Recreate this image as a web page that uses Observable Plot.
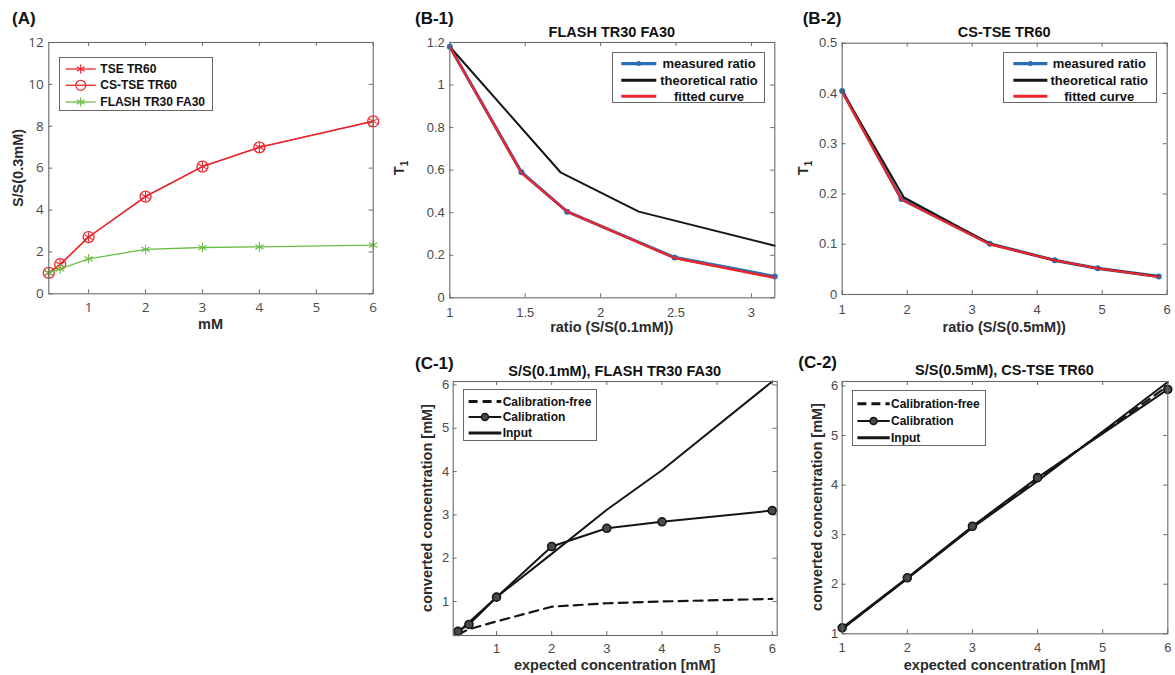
<!DOCTYPE html>
<html><head><meta charset="utf-8">
<script src="https://cdn.jsdelivr.net/npm/d3@7"></script>
<script src="https://cdn.jsdelivr.net/npm/@observablehq/plot@0.6"></script>
<style>
body{margin:0;background:#fff;}
#fig{position:relative;width:1175px;height:675px;overflow:hidden;font-family:"Liberation Sans",Arial,sans-serif;background:#fff;}
#fig svg{position:absolute;}
.abs{position:absolute;white-space:nowrap;line-height:1;}
.letter{font-weight:bold;font-size:17px;color:#111;transform:translate(0,-50%);}
.title{font-weight:bold;font-size:14.5px;color:#111;transform:translate(-50%,-50%);}
.xlab{font-weight:bold;font-size:14.5px;color:#2b2b2b;transform:translate(-50%,-50%);}
.ylab{font-weight:bold;font-size:14.5px;color:#2b2b2b;transform:translate(-50%,-50%) rotate(-90deg);}
.legend{position:absolute;border:1px solid #666;background:#fff;box-sizing:border-box;}
.legend .lt{position:absolute;white-space:nowrap;font-weight:bold;line-height:1;transform:translate(0,-50%);color:#111;}
.legend svg{position:absolute;left:0;top:0;overflow:visible;}
</style></head><body><div id="fig"></div>
<script>
// ---------------- DATA ----------------
// (A) signal ratio vs concentration
const concA = [0.3, 0.5, 1, 2, 3, 4, 6];
const tseTR60 = [1.0, 1.40, 2.71, 4.65, 6.08, 7.00, 8.24];
const csTseTR60 = [1.0, 1.41, 2.71, 4.64, 6.07, 6.99, 8.23];
const flashTR30FA30 = [1.0, 1.19, 1.67, 2.12, 2.21, 2.24, 2.32];
const namesA = ["TSE TR60", "CS-TSE TR60", "FLASH TR30 FA30"];
const xTicksA = [1, 2, 3, 4, 5, 6];
const yTicksA = [0, 2, 4, 6, 8, 10, 12];

// (B-1) FLASH TR30 FA30
const b1MeasRatio = [1.0, 1.475, 1.778, 2.49, 3.155];
const b1MeasT1 = [1.18, 0.59, 0.405, 0.19, 0.10];
const b1TheoRatio = [1.0, 1.734, 2.253, 3.155];
const b1TheoT1 = [1.18, 0.59, 0.405, 0.245];
const b1FitT1 = [1.18, 0.587, 0.405, 0.187, 0.094];
const xTicksB1 = [1, 1.5, 2, 2.5, 3];
const yTicksB1 = [0, 0.2, 0.4, 0.6, 0.8, 1, 1.2];

// (B-2) CS-TSE TR60
const b2MeasRatio = [1.0, 1.91, 3.27, 4.27, 4.93, 5.87];
const b2MeasT1 = [0.405, 0.19, 0.101, 0.068, 0.052, 0.036];
const b2TheoRatio = [1.0, 1.95, 3.27, 4.27, 4.93, 5.87];
const b2TheoT1 = [0.405, 0.193, 0.101, 0.068, 0.052, 0.036];
const b2FitT1 = [0.403, 0.189, 0.100, 0.068, 0.052, 0.035];
const xTicksB2 = [1, 2, 3, 4, 5, 6];
const yTicksB2 = [0, 0.1, 0.2, 0.3, 0.4, 0.5];
const namesB = ["measured ratio", "theoretical ratio", "fitted curve"];

// (C-1) S/S(0.1mM), FLASH TR30 FA30
const concC1 = [0.3, 0.5, 1, 2, 3, 4, 6];
const c1CalFree = [0.24, 0.36, 0.54, 0.88, 0.96, 1.0, 1.06];
const c1Cal = [0.31, 0.47, 1.10, 2.27, 2.69, 2.84, 3.10];
const c1Input = [0.29, 0.52, 1.10, 2.10, 3.12, 4.03, 6.08];

// (C-2) S/S(0.5mM), CS-TSE TR60
const concC2 = [1, 2, 3, 4, 6];
const c2CalFree = [1.10, 2.12, 3.16, 4.13, 6.00];
const c2Cal = [1.12, 2.13, 3.17, 4.15, 5.93];
const c2Input = [1.10, 2.11, 3.14, 4.08, 6.08];
const xTicksC = [1, 2, 3, 4, 5, 6];
const yTicksC = [1, 2, 3, 4, 5, 6];
const namesC = ["Calibration-free", "Calibration", "Input"];

// ---------------- HELPERS ----------------
const fig = document.getElementById("fig");
const zip = (xs, ys) => xs.map((x, i) => ({x, y: ys[i]}));
const fmt = d => String(d);
const RED = "#e8262c", GREEN = "#6cbd45", BLUE = "#2a6fb6", BLACK = "#151515", AXIS = "#6a6a6a";

function panel(cfg) {
  const [x0, y0, x1, y1] = cfg.frame;
  const innerW = x1 - x0, innerH = y1 - y0;
  const tk = 4;
  const svg = Plot.plot({
    width: cfg.width, height: cfg.height,
    marginLeft: x0 - cfg.left, marginRight: cfg.left + cfg.width - x1,
    marginTop: y0 - cfg.top, marginBottom: cfg.top + cfg.height - y1,
    x: {domain: cfg.xDomain},
    y: {domain: cfg.yDomain},
    style: {fontFamily: cfg.font, fontSize: cfg.fontSize + "px", color: "#4a4a4a", background: "transparent", overflow: "visible"},
    marks: [
      Plot.tickX(cfg.xTicks, {x: d => d, stroke: AXIS, insetTop: innerH - tk}),
      Plot.tickX(cfg.xTicks, {x: d => d, stroke: AXIS, insetBottom: innerH - tk}),
      Plot.tickY(cfg.yTicks, {y: d => d, stroke: AXIS, insetRight: innerW - tk}),
      Plot.tickY(cfg.yTicks, {y: d => d, stroke: AXIS, insetLeft: innerW - tk}),
      Plot.axisX({ticks: cfg.xTicks, tickSize: 0, tickPadding: cfg.xPad, tickFormat: fmt, label: null, fill: "#4a4a4a"}),
      Plot.axisY({ticks: cfg.yTicks, tickSize: 0, tickPadding: cfg.yPad, tickFormat: fmt, label: null, fill: "#4a4a4a"}),
      ...cfg.marks,
      Plot.frame({stroke: AXIS, strokeWidth: 1.1})
    ]
  });
  svg.style.left = cfg.left + "px";
  svg.style.top = cfg.top + "px";
  fig.appendChild(svg);
}

function text(cls, str, x, y, html) {
  const d = document.createElement("div");
  d.className = "abs " + cls;
  if (html) d.innerHTML = str; else d.textContent = str;
  d.style.left = x + "px";
  d.style.top = y + "px";
  fig.appendChild(d);
}

function asteriskPath(cx, cy, r) {
  let p = "";
  for (let k = 0; k < 3; k++) {
    const a = k * Math.PI / 3 + Math.PI / 2;
    p += `M${cx - r * Math.cos(a)},${cy - r * Math.sin(a)}L${cx + r * Math.cos(a)},${cy + r * Math.sin(a)}`;
  }
  return p;
}

function legend(box, entries, opt) {
  const d = document.createElement("div");
  d.className = "legend";
  d.style.left = box[0] + "px"; d.style.top = box[1] + "px";
  d.style.width = box[2] + "px"; d.style.height = box[3] + "px";
  let svg = `<svg width="${box[2]}" height="${box[3]}">`;
  entries.forEach(e => {
    const [sx0, sx1] = opt.sample, cy = e.y, cx = (sx0 + sx1) / 2;
    svg += `<line x1="${sx0}" x2="${sx1}" y1="${cy}" y2="${cy}" stroke="${e.color}" stroke-width="${e.width}" ${e.dash ? `stroke-dasharray="${e.dash}"` : ""}/>`;
    if (e.marker === "circle") svg += `<circle cx="${cx}" cy="${cy}" r="${e.r}" fill="${e.fill || "none"}" stroke="${e.mstroke || e.color}" stroke-width="${e.mw || 1.2}"/>`;
    if (e.marker === "asterisk") svg += `<path d="${asteriskPath(cx, cy, e.r)}" stroke="${e.color}" stroke-width="1.2"/>`;
    if (e.marker === "dot") svg += `<circle cx="${cx}" cy="${cy}" r="${e.r}" fill="${e.color}"/>`;
  });
  svg += `</svg>`;
  d.innerHTML = svg;
  entries.forEach(e => {
    const t = document.createElement("div");
    t.className = "lt";
    t.textContent = e.label;
    t.style.fontSize = opt.fontSize + "px";
    t.style.top = e.y + "px";
    if (opt.center) { t.style.left = opt.center + "px"; t.style.transform = "translate(-50%,-50%)"; }
    else t.style.left = opt.textX + "px";
    d.appendChild(t);
  });
  fig.appendChild(d);
}

// ---------------- (A) ----------------
panel({
  left: 0, top: 0, width: 390, height: 340, frame: [48.3, 42, 372.7, 293.3],
  xDomain: [0.3, 6], yDomain: [0, 12], xTicks: xTicksA, yTicks: yTicksA,
  font: "'Open Sans', 'Noto Sans', sans-serif", fontSize: 13.5, xPad: 9, yPad: 5,
  marks: [
    Plot.line(zip(concA, tseTR60), {x: "x", y: "y", stroke: RED, strokeWidth: 1.3}),
    Plot.dot(zip(concA, tseTR60), {x: "x", y: "y", symbol: "asterisk", r: 4.5, stroke: RED, strokeWidth: 1.1}),
    Plot.line(zip(concA, csTseTR60), {x: "x", y: "y", stroke: RED, strokeWidth: 1.3}),
    Plot.dot(zip(concA, csTseTR60), {x: "x", y: "y", symbol: "circle", r: 5.5, stroke: RED, strokeWidth: 1.3, fill: "none"}),
    Plot.line(zip(concA, flashTR30FA30), {x: "x", y: "y", stroke: GREEN, strokeWidth: 1.3}),
    Plot.dot(zip(concA, flashTR30FA30), {x: "x", y: "y", symbol: "asterisk", r: 4.5, stroke: GREEN, strokeWidth: 1.1})
  ]
});
text("letter", "(A)", 12, 18);
text("ylab", "S/S(0.3mM)", 18, 167.5);
text("xlab", "mM", 210.5, 324);
legend([59.3, 56.7, 154, 54], [
  {label: namesA[0], y: 11, color: RED, width: 1.3, marker: "asterisk", r: 4.5},
  {label: namesA[1], y: 27.3, color: RED, width: 1.3, marker: "circle", r: 5},
  {label: namesA[2], y: 44, color: GREEN, width: 1.3, marker: "asterisk", r: 4.5}
], {sample: [5.7, 35.7], textX: 40, fontSize: 12});

// ---------------- (B-1) ----------------
panel({
  left: 390, top: 0, width: 400, height: 340, frame: [449.3, 42, 774.3, 297.3],
  xDomain: [1, 3.155], yDomain: [0, 1.2], xTicks: xTicksB1, yTicks: yTicksB1,
  font: "'Liberation Sans', Arial, sans-serif", fontSize: 13, xPad: 10, yPad: 5,
  marks: [
    Plot.line(zip(b1MeasRatio, b1MeasT1), {x: "x", y: "y", stroke: BLUE, strokeWidth: 3.2}),
    Plot.dot(zip(b1MeasRatio, b1MeasT1), {x: "x", y: "y", r: 3, fill: BLUE}),
    Plot.line(zip(b1TheoRatio, b1TheoT1), {x: "x", y: "y", stroke: BLACK, strokeWidth: 2}),
    Plot.line(zip(b1MeasRatio, b1FitT1), {x: "x", y: "y", stroke: RED, strokeWidth: 2.4})
  ]
});
text("letter", "(B-1)", 415, 18);
text("title", "FLASH TR30 FA30", 611.8, 32);
text("ylab", "T<sub style='font-size:10px'>1</sub>", 400.5, 168, true);
text("xlab", "ratio (S/S(0.1mM))", 611.8, 326.7);
legend([611.7, 51.7, 153.3, 51.6], [
  {label: namesB[0], y: 10.6, color: BLUE, width: 3.2, marker: "dot", r: 2.5},
  {label: namesB[1], y: 27.3, color: BLACK, width: 3},
  {label: namesB[2], y: 43.3, color: RED, width: 3}
], {sample: [8.3, 43.3], center: 96.3, fontSize: 13});

// ---------------- (B-2) ----------------
panel({
  left: 790, top: 0, width: 385, height: 340, frame: [841.7, 42.7, 1166.7, 294],
  xDomain: [1, 6], yDomain: [0, 0.5], xTicks: xTicksB2, yTicks: yTicksB2,
  font: "'Liberation Sans', Arial, sans-serif", fontSize: 13, xPad: 10, yPad: 5,
  marks: [
    Plot.line(zip(b2MeasRatio, b2MeasT1), {x: "x", y: "y", stroke: BLUE, strokeWidth: 3.2}),
    Plot.dot(zip(b2MeasRatio, b2MeasT1), {x: "x", y: "y", r: 3, fill: BLUE}),
    Plot.line(zip(b2TheoRatio, b2TheoT1), {x: "x", y: "y", stroke: BLACK, strokeWidth: 2}),
    Plot.line(zip(b2MeasRatio, b2FitT1), {x: "x", y: "y", stroke: RED, strokeWidth: 2.4})
  ]
});
text("letter", "(B-2)", 802.7, 18);
text("title", "CS-TSE TR60", 1004.2, 32);
text("ylab", "T<sub style='font-size:10px'>1</sub>", 805, 168, true);
text("xlab", "ratio (S/S(0.5mM))", 1004.2, 326.7);
legend([1003.3, 51.7, 153.4, 51.6], [
  {label: namesB[0], y: 10.6, color: BLUE, width: 3.2, marker: "dot", r: 2.5},
  {label: namesB[1], y: 27.3, color: BLACK, width: 3},
  {label: namesB[2], y: 43.3, color: RED, width: 3}
], {sample: [9.4, 43.4], center: 95, fontSize: 13});

// ---------------- (C-1) ----------------
panel({
  left: 390, top: 340, width: 400, height: 335, frame: [452.7, 381, 776.7, 635],
  xDomain: [0.214, 6.09], yDomain: [0.215, 6.08], xTicks: xTicksC, yTicks: yTicksC,
  font: "'Liberation Sans', Arial, sans-serif", fontSize: 13, xPad: 8.5, yPad: 4,
  marks: [
    Plot.line(zip(concC1, c1CalFree), {x: "x", y: "y", stroke: BLACK, strokeWidth: 2.2, strokeDasharray: "9,6"}),
    Plot.line(zip(concC1, c1Input), {x: "x", y: "y", stroke: BLACK, strokeWidth: 2}),
    Plot.line(zip(concC1, c1Cal), {x: "x", y: "y", stroke: BLACK, strokeWidth: 2}),
    Plot.dot(zip(concC1, c1Cal), {x: "x", y: "y", r: 4, fill: "#4a4a4a", stroke: BLACK, strokeWidth: 1.6})
  ]
});
text("letter", "(C-1)", 415, 362.7);
text("title", "S/S(0.1mM), FLASH TR30 FA30", 614.7, 370.5);
text("ylab", "converted concentration [mM]", 426.7, 508);
text("xlab", "expected concentration [mM]", 614.7, 665);
legend([462.7, 389.3, 134, 51.4], [
  {label: namesC[0], y: 11.4, color: BLACK, width: 3, dash: "9,5"},
  {label: namesC[1], y: 27, color: BLACK, width: 2, marker: "circle", r: 3.5, fill: "#4a4a4a", mstroke: BLACK, mw: 1.6},
  {label: namesC[2], y: 43, color: BLACK, width: 3}
], {sample: [4.6, 37.3], textX: 39, fontSize: 12});

// ---------------- (C-2) ----------------
panel({
  left: 790, top: 340, width: 385, height: 335, frame: [841.7, 381, 1167.3, 633.3],
  xDomain: [1, 6], yDomain: [1, 6.09], xTicks: xTicksC, yTicks: yTicksC,
  font: "'Liberation Sans', Arial, sans-serif", fontSize: 13, xPad: 8.5, yPad: 4,
  marks: [
    Plot.line(zip(concC2, c2CalFree), {x: "x", y: "y", stroke: BLACK, strokeWidth: 2.2, strokeDasharray: "9,6"}),
    Plot.line(zip(concC2, c2Input), {x: "x", y: "y", stroke: BLACK, strokeWidth: 2}),
    Plot.line(zip(concC2, c2Cal), {x: "x", y: "y", stroke: BLACK, strokeWidth: 2}),
    Plot.dot(zip(concC2, c2Cal), {x: "x", y: "y", r: 4, fill: "#4a4a4a", stroke: BLACK, strokeWidth: 1.6})
  ]
});
text("letter", "(C-2)", 798.3, 362);
text("title", "S/S(0.5mM), CS-TSE TR60", 1004.5, 370);
text("ylab", "converted concentration [mM]", 816.7, 506.7);
text("xlab", "expected concentration [mM]", 1004.5, 665);
legend([852.3, 390, 133.4, 55.7], [
  {label: namesC[0], y: 12.7, color: BLACK, width: 3, dash: "9,5"},
  {label: namesC[1], y: 30, color: BLACK, width: 2, marker: "circle", r: 3.5, fill: "#4a4a4a", mstroke: BLACK, mw: 1.6},
  {label: namesC[2], y: 46.7, color: BLACK, width: 3}
], {sample: [4.4, 36.7], textX: 37.7, fontSize: 12});
</script></body></html>
